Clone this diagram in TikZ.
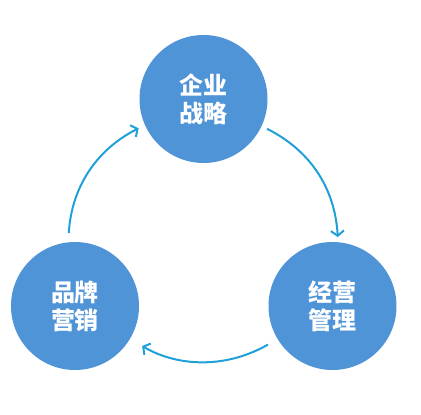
\documentclass[tikz,border=0pt]{standalone}
\usepackage{fontspec}
\newfontfamily\cjk{Noto Sans CJK SC}
\usetikzlibrary{arrows.meta}
\definecolor{circblue}{RGB}{80,148,216}
\definecolor{arrblue}{RGB}{32,160,216}

\begin{document}
\begin{tikzpicture}[
  x=1pt,y=-1pt,
  crc/.style={circle,fill=circblue,minimum size=128pt,inner sep=0pt,text=white,align=center,
    font=\cjk\bfseries\fontsize{24}{28}\selectfont},
  ar/.style={-{Straight Barb[length=5pt,width=13pt]},line width=2pt,draw=arrblue,bend left=30}
]
\useasboundingbox (0,0) rectangle (421,415);
\node[crc] (zl) at (203.5,99) {企业\\战略};
\node[crc] (jy) at (332.5,306) {经营\\管理};
\node[crc] (pp) at (75,306) {品牌\\营销};
\draw[ar,shorten <=6pt,shorten >=5pt] (zl.-25) to (jy.85);
\draw[ar,shorten <=11pt,shorten >=14pt] (jy.211) to (pp.-31);
\draw[ar,shorten <=9pt,shorten >=7pt] (pp.96) to (zl.204);
\end{tikzpicture}
\end{document}
